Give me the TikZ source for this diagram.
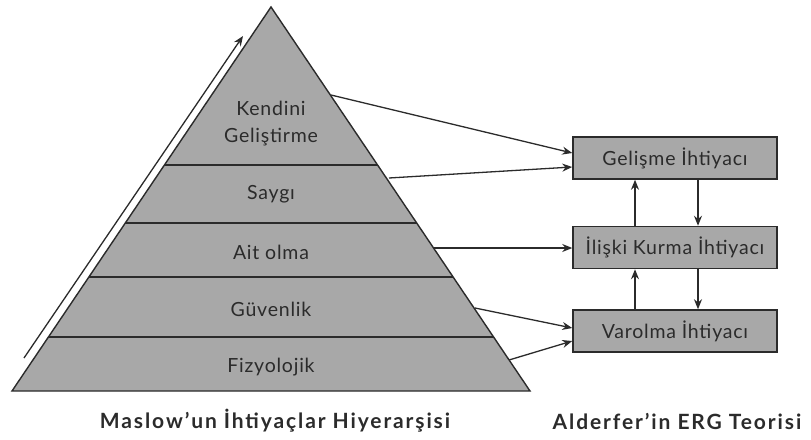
\documentclass[tikz,border=0pt]{standalone}
\usepackage{fontspec}
\setmainfont{Lato}
\usetikzlibrary{arrows.meta,calc}
\definecolor{pyr}{HTML}{A8A8A8}
\definecolor{ink}{HTML}{2B2B2B}
\newfontfamily\boxfont[LetterSpace=4]{Lato}
\newfontfamily\lblfont[LetterSpace=4]{Lato}
\newfontfamily\capfont[LetterSpace=9]{Lato}
\begin{document}
\begin{tikzpicture}[x=1pt,y=-1pt,
  edge/.style={draw=ink,line width=1.4pt},
  arr/.style={draw=ink,line width=1.3pt,-{Stealth[length=10pt,width=8pt]}},
  lbl/.style={text=ink,font=\lblfont\fontsize{19.5}{21}\selectfont,align=center},
  ergbox/.style={draw=ink,line width=1.5pt,fill=pyr,minimum width=204pt,minimum height=42pt,inner sep=0pt,text=ink,font=\boxfont\fontsize{19.5}{21}\selectfont},
  captxt/.style={text=ink,font=\capfont\bfseries\fontsize{21}{23}\selectfont}]
\useasboundingbox (0,0) rectangle (811,439);
% pyramid
\coordinate (apex) at (271,7);
\coordinate (bl) at (12,391);
\coordinate (br) at (530,391);
\fill[pyr] (apex) -- (br) -- (bl) -- cycle;
\draw[edge] (164.4,165) -- (377.6,165);
\draw[edge] (125.3,223) -- (416.7,223);
\draw[edge] (88.9,277) -- (453.1,277);
\draw[edge] (48.4,337) -- (493.6,337);
\draw[edge,line join=miter] (apex) -- (br) -- (bl) -- cycle;
% left arrow
\coordinate (la) at (24,358);
\coordinate (lb) at (243,36);
\draw[arr] (la) -- (lb);
% labels
\node[lbl] (k1) at (271,108) {Kendini};
\node[lbl] (k2) at (271,137) {Geliştirme};
\node[lbl] (sa) at (271,194) {Saygı};
\node[lbl] (ai) at (271,252) {Ait olma};
\node[lbl] (gu) at (271,309) {Güvenlik};
\node[lbl] (fi) at (271,367) {Fizyolojik};
% boxes
\node[ergbox] (gel) at (675,158) {Gelişme İhtiyacı};
\node[ergbox] (ili) at (675,247.5) {İlişki Kurma İhtiyacı};
\node[ergbox] (var) at (675,331) {Varolma İhtiyacı};
% start points on pyramid edge
\coordinate (s1) at (331,95);
\coordinate (s2) at (389,178);
\coordinate (s3) at (434,248);
\coordinate (s4) at (475,308);
\coordinate (s5) at (509,360);
\draw[arr] (s1) -- ($(gel.west)+(0,-5)$);
\draw[arr] (s2) -- ($(gel.west)+(0,9)$);
\draw[arr] (s3) -- (ili.west |- s3);
\draw[arr] (s4) -- ($(var.west)+(0,-3)$);
\draw[arr] (s5) -- ($(var.west)+(0,10)$);
% vertical arrows
\coordinate (up) at (635,0);
\coordinate (dn) at (698,0);
\draw[arr] (ili.north -| up) -- (gel.south -| up);
\draw[arr] (var.north -| up) -- (ili.south -| up);
\draw[arr] (gel.south -| dn) -- (ili.north -| dn);
\draw[arr] (ili.south -| dn) -- (var.north -| dn);
% captions
\node[captxt] (c1) at (275,421) {Maslow’un İhtiyaçlar Hiyerarşisi};
\node[captxt] (c2) at (677,421) {Alderfer’in ERG Teorisi};
\end{tikzpicture}
\end{document}
